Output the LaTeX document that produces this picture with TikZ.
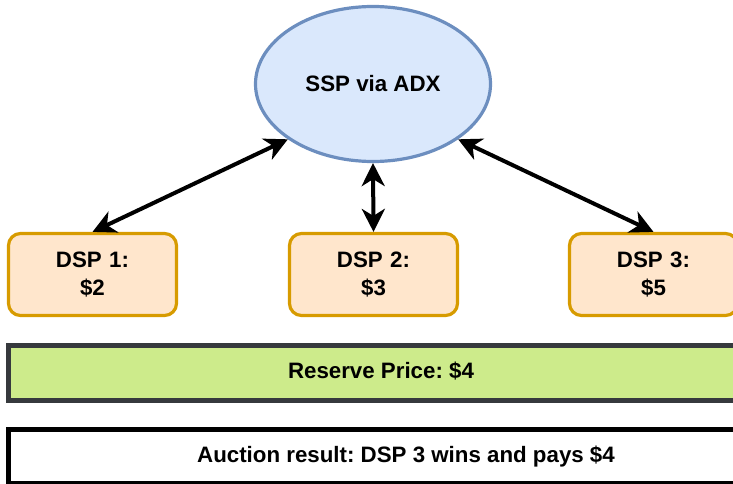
\documentclass[tikz,border=0pt]{standalone}
\usepackage{fontspec}
\setmainfont{Liberation Sans}
\usetikzlibrary{shapes.geometric,arrows.meta}

\definecolor{sspfill}{HTML}{DAE8FC}
\definecolor{sspline}{HTML}{6C8EBF}
\definecolor{dspfill}{HTML}{FFE6CC}
\definecolor{dspline}{HTML}{D79B00}
\definecolor{reservefill}{HTML}{CDEB8B}
\definecolor{reserveline}{HTML}{36393D}

\tikzset{
  dspbox/.style={draw=dspline, fill=dspfill, line width=3.2pt, rounded corners=12pt,
    minimum width=168pt, minimum height=82pt, inner sep=0pt,
    align=center, text width=160pt},
  bar/.style={line width=4.8pt, minimum width=760pt,
    anchor=north west, inner sep=0pt, outer sep=0pt},
  link/.style={line width=4pt,
    {Stealth[length=23pt,width=23pt,inset=7pt]}-{Stealth[length=23pt,width=23pt,inset=7pt]}}
}

\begin{document}
\frenchspacing
\begin{tikzpicture}[x=1pt, y=-1pt, font=\fontsize{22.3}{28}\selectfont\bfseries]
  \useasboundingbox (0,0) rectangle (733,484);
  \clip (0,0) rectangle (733,484);

  % supply-side platform
  \node[ellipse, draw=sspline, fill=sspfill, line width=3.2pt,
        minimum width=235pt, minimum height=155pt, inner sep=0pt]
        (ssp) at (373,84) {SSP via ADX};

  % demand-side platforms with their bids
  \node[dspbox] (d1) at (92.5,274.5) {DSP 1:\\\$2};
  \node[dspbox] (d2) at (373.5,274.5) {DSP 2:\\\$3};
  \node[dspbox] (d3) at (653.5,274.5) {DSP 3:\\\$5};

  % bid exchange
  \draw[link] (d1.north) -- (ssp.213.7);
  \draw[link] (d2.north) -- (ssp.south);
  \draw[link] (d3.north) -- (ssp.327);

  % reserve price and result bars
  \node[bar, draw=reserveline, fill=reservefill, minimum height=55.3pt]
        (reserve) at (8.4,345.1) {};
  \node (reservetext) at (381,371.5) {Reserve Price: \$4};

  \node[bar, draw=black, fill=white, minimum height=54.5pt]
        (result) at (8.5,429.2) {};
  \node (resulttext) at (406,456.5) {Auction result: DSP 3 wins and pays \$4};
\end{tikzpicture}
\end{document}
